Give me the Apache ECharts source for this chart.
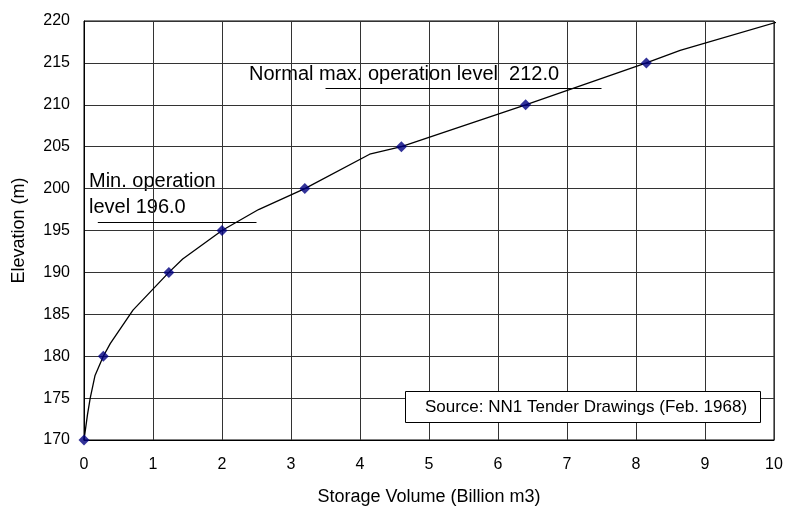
<!DOCTYPE html>
<html>
<head>
<meta charset="utf-8">
<script src="https://cdn.jsdelivr.net/npm/echarts@6/dist/echarts.min.js"></script>
<style>html,body{margin:0;padding:0;background:#fff}#c{width:787px;height:511px}</style>
</head>
<body>
<div id="c"></div>
<script>
// Elevation-storage curve (volume in billion m3, elevation in m)
var curveVolume = [0, 0.05, 0.09, 0.16, 0.28, 0.38, 0.71, 1.23, 1.43, 2.0, 2.53, 3.2, 4.14, 4.6, 6.4, 8.15, 8.64, 10.1];
var curveElev   = [170, 173, 175, 177.7, 180, 181.5, 185.5, 190, 191.6, 195, 197.5, 200, 204.1, 205, 210, 215, 216.5, 220];
// marked survey points
var pointVolume = [0, 0.28, 1.23, 2.0, 3.2, 4.6, 6.4, 8.15];
var pointElev   = [170, 180, 190, 195, 200, 205, 210, 215];
// operation levels
var minLevel = 196.0, minLevelFrom = 0.2, minLevelTo = 2.5;
var maxLevel = 212.0, maxLevelFrom = 3.5, maxLevelTo = 7.5;
var minText = 'Min. operation\nlevel 196.0';
var maxText = 'Normal max. operation level  212.0';
var sourceText = 'Source: NN1 Tender Drawings (Feb. 1968)';
var xTitle = 'Storage Volume (Billion m3)';
var yTitle = 'Elevation (m)';

var font = 'Liberation Sans, Arial, sans-serif';
var chart = echarts.init(document.getElementById('c'), null, {renderer: 'canvas'});
var curve = curveVolume.map(function (v, i) { return [v, curveElev[i]]; });
var pts = pointVolume.map(function (v, i) { return [v, pointElev[i]]; });

chart.setOption({
  animation: false,
  backgroundColor: '#fff',
  grid: {left: 84, right: 13, top: 21, bottom: 69, show: true, borderColor: '#000', borderWidth: 1},
  xAxis: {
    type: 'value', min: 0, max: 10, interval: 1,
    name: xTitle, nameLocation: 'middle', nameGap: 48,
    nameTextStyle: {fontFamily: font, fontSize: 18, color: '#000'},
    axisLine: {lineStyle: {color: '#000', width: 1}},
    axisTick: {show: false},
    axisLabel: {fontFamily: font, fontSize: 16, color: '#000', margin: 17},
    splitLine: {lineStyle: {color: '#333', width: 1}}
  },
  yAxis: {
    type: 'value', min: 170, max: 220, interval: 5,
    name: yTitle, nameLocation: 'middle', nameGap: 56,
    nameTextStyle: {fontFamily: font, fontSize: 18, color: '#000'},
    axisLine: {show: true, lineStyle: {color: '#000', width: 1}},
    axisTick: {show: false},
    axisLabel: {fontFamily: font, fontSize: 16, color: '#000', margin: 14},
    splitLine: {lineStyle: {color: '#333', width: 1}}
  },
  series: [
    {
      type: 'line', data: curve, showSymbol: false, clip: false,
      lineStyle: {color: '#000', width: 1.3}, silent: true,
      markLine: {
        silent: true, symbol: 'none', label: {show: false},
        lineStyle: {color: '#000', width: 1, type: 'solid'},
        data: [
          [{coord: [minLevelFrom, minLevel]}, {coord: [minLevelTo, minLevel]}],
          [{coord: [maxLevelFrom, maxLevel]}, {coord: [maxLevelTo, maxLevel]}]
        ]
      }
    },
    {
      type: 'scatter', data: pts, symbol: 'diamond', symbolSize: 11, clip: false,
      itemStyle: {color: '#000080'}, silent: true, z: 5
    }
  ],
  graphic: [
    {type: 'text', left: 89, top: 168, style: {text: minText, font: '20px ' + font, fill: '#000', lineHeight: 26}},
    {type: 'text', left: 249, top: 64, style: {text: maxText, font: '20px ' + font, fill: '#000'}},
    {type: 'rect', shape: {x: 405.5, y: 391.5, width: 355, height: 31}, style: {fill: '#fff', stroke: '#000', lineWidth: 1}, z: 10},
    {type: 'text', x: 586, y: 407, style: {text: sourceText, font: '17px ' + font, fill: '#000', align: 'center', verticalAlign: 'middle'}, z: 11}
  ]
});
</script>
</body>
</html>
